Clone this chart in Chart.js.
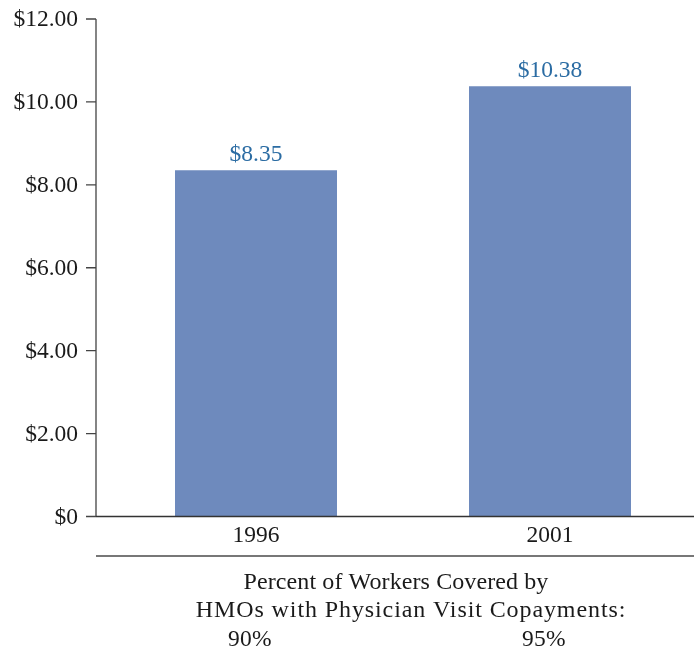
<!DOCTYPE html>
<html>
<head>
<meta charset="utf-8">
<script src="https://cdn.jsdelivr.net/npm/chart.js@4.4.1/dist/chart.umd.min.js"></script>
<style>
  html, body { margin: 0; padding: 0; background: #fff; overflow: hidden; }
  #wrap { width: 694px; height: 647px; overflow: hidden; }
</style>
</head>
<body>
<div id="wrap"><canvas id="chart" width="700" height="647"></canvas></div>
<script>
// datos
const years = ["1996", "2001"];
const copays = [8.35, 10.38];
const coverage = ["90%", "95%"];
const yTicks = [0, 2, 4, 6, 8, 10, 12];
const noteLines = ["Percent of Workers Covered by", "HMOs with Physician Visit Copayments:"];

const FONT = "'Liberation Serif', 'DejaVu Serif', serif";
const INK = "#1a1a1a";

const fmt = (v) => (v === 0 ? "$0" : "$" + v.toFixed(2));

// eje y, linea de cero, etiquetas y nota inferior
const extras = {
  id: "extras",
  afterDraw(chart) {
    const { ctx, chartArea, scales } = chart;
    const y = scales.y;
    const x = scales.x;
    const axisX = chartArea.left - 13;
    ctx.save();

    ctx.strokeStyle = "#444";
    ctx.lineWidth = 1.3;
    ctx.beginPath();
    ctx.moveTo(axisX, y.getPixelForValue(12));
    ctx.lineTo(axisX, y.getPixelForValue(0));
    yTicks.forEach((t) => {
      const py = y.getPixelForValue(t);
      ctx.moveTo(axisX - 10, py);
      ctx.lineTo(axisX, py);
    });
    ctx.stroke();

    ctx.strokeStyle = "#333";
    ctx.lineWidth = 1.5;
    ctx.beginPath();
    ctx.moveTo(axisX, y.getPixelForValue(0));
    ctx.lineTo(694, y.getPixelForValue(0));
    ctx.stroke();

    ctx.strokeStyle = "#777";
    ctx.lineWidth = 2;
    ctx.beginPath();
    ctx.moveTo(axisX, 556);
    ctx.lineTo(694, 556);
    ctx.stroke();

    // etiquetas del eje y
    ctx.fillStyle = INK;
    ctx.font = "23.5px " + FONT;
    ctx.textAlign = "right";
    ctx.textBaseline = "middle";
    yTicks.forEach((t) => {
      ctx.fillText(fmt(t), 78, y.getPixelForValue(t) + 1);
    });

    // valores sobre las barras
    ctx.fillStyle = "#2b6ca3";
    ctx.textAlign = "center";
    ctx.textBaseline = "alphabetic";
    chart.getDatasetMeta(0).data.forEach((bar, i) => {
      ctx.fillText(fmt(copays[i]), bar.x, bar.y - 9);
    });

    // nota inferior
    ctx.fillStyle = INK;
    ctx.font = "24px " + FONT;
    ctx.letterSpacing = "0.1px";
    ctx.fillText(noteLines[0], 396, 589);
    ctx.letterSpacing = "0.9px";
    ctx.fillText(noteLines[1], 411, 617);
    ctx.letterSpacing = "0.3px";
    ctx.font = "23.5px " + FONT;
    coverage.forEach((c, i) => {
      ctx.fillText(c, x.getPixelForValue(i) - 6, 646);
    });

    ctx.restore();
  },
};

new Chart(document.getElementById("chart"), {
  type: "bar",
  data: {
    labels: years,
    datasets: [
      {
        data: copays,
        backgroundColor: "#6e8abd",
        barPercentage: 0.551,
        categoryPercentage: 1,
      },
    ],
  },
  options: {
    responsive: false,
    animation: false,
    layout: { padding: { top: 19, right: 3, left: 0, bottom: 0 } },
    plugins: { legend: { display: false }, tooltip: { enabled: false } },
    scales: {
      x: {
        grid: { display: false, drawTicks: false },
        border: { display: false },
        ticks: { color: INK, font: { family: FONT, size: 23.5 }, padding: 5 },
        afterFit: (s) => { s.height = 130.5; },
      },
      y: {
        min: 0,
        max: 12,
        afterBuildTicks: (s) => { s.ticks = yTicks.map((v) => ({ value: v })); },
        grid: { display: false, drawTicks: false },
        border: { display: false },
        ticks: { display: false },
        afterFit: (s) => { s.width = 109; },
      },
    },
  },
  plugins: [extras],
});
</script>
</body>
</html>
